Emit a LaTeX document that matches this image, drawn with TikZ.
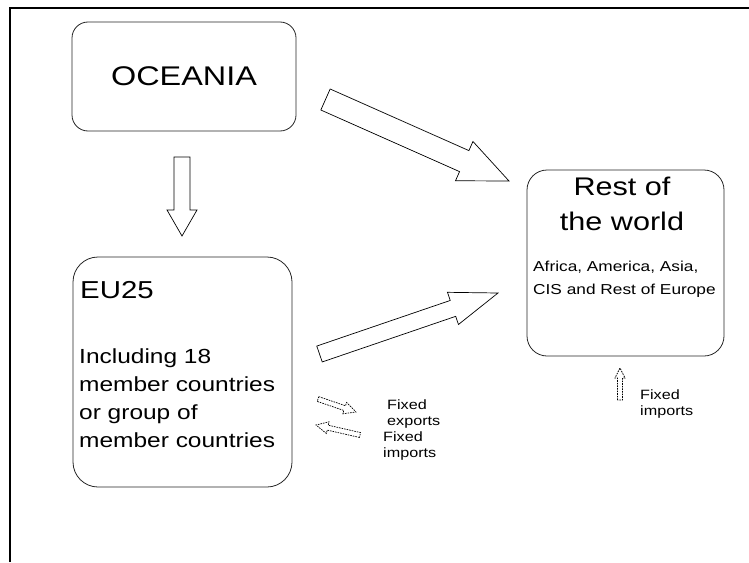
\documentclass[tikz,border=0pt]{standalone}
\usepackage{fontspec}
\setmainfont{Liberation Sans}[FakeStretch=1.2]
\usetikzlibrary{calc}
\tikzstyle{region}=[draw=black!85,line width=0.8pt,rounded corners=16pt,inner sep=0pt]
\tikzstyle{bigarrow}=[draw,line width=0.7pt,line join=miter]
\tikzstyle{fixedarrow}=[draw,line width=0.7pt,densely dashed,dash pattern=on 1.6pt off 1pt]
\tikzstyle{fixedtext}=[inner sep=0pt,anchor=west,align=left,font=\fontsize{13.5}{16}\selectfont]
\newcommand{\blockarrow}[6]{
% #1 style, #2 tail, #3 tip, #4 half shaft, #5 half head, #6 head length
\coordinate (hb) at ($(#3)!#6pt!(#2)$);
\path[#1] ($(#2)!#4pt!90:(#3)$) -- ($(hb)!#4pt!-90:(#2)$) -- ($(hb)!#5pt!-90:(#2)$) -- (#3)
   -- ($(hb)!#5pt!90:(#2)$) -- ($(hb)!#4pt!90:(#2)$) -- ($(#2)!#4pt!-90:(#3)$) -- cycle;
}
\begin{document}
\begin{tikzpicture}[x=1pt,y=-1pt]
\useasboundingbox (0,0) rectangle (749,562);
\draw[line width=2pt] (10,562) -- (10,8) -- (749,8);

\node[region,minimum width=224pt,minimum height=109pt,font=\fontsize{27}{31}\selectfont] (oceania) at (184,76.5) {OCEANIA};
\node[region,rounded corners=25pt,minimum width=219pt,minimum height=230pt] (eu) at (182.5,372) {};
\node[region,rounded corners=20pt,minimum width=197pt,minimum height=186pt] (rest) at (625.5,263) {};

\node[inner sep=0pt,anchor=west,font=\fontsize{24.5}{28}\selectfont] (eutitle) at (80,290) {EU25};
\node[inner sep=0pt,anchor=north west,align=left,font=\fontsize{20.4}{28}\selectfont] (eutext) at (79,349) {Including 18\\member countries\\or group of\\member countries};
\node[inner sep=0pt,align=center,font=\fontsize{25.5}{35}\selectfont] (resttitle) at (622,204) {Rest of\\the world};
\node[inner sep=0pt,anchor=west,align=left,font=\fontsize{14.4}{23}\selectfont] (resttext) at (533,279) {Africa, America, Asia,\\CIS and Rest of Europe};

% trade flows
\coordinate (oc1) at (182,157);
\coordinate (oc2) at (182,236);
\coordinate (oc3) at (325.5,99.5);
\coordinate (rw1) at (509,181);
\coordinate (eu1) at (319.5,354);
\coordinate (rw2) at (498,293);
\blockarrow{bigarrow}{oc1}{oc2}{8}{15}{26}
\blockarrow{bigarrow}{oc3}{rw1}{11.5}{21.5}{49}
\blockarrow{bigarrow}{eu1}{rw2}{8.4}{17}{47.6}

% fixed flows
\coordinate (ex1) at (318,399);
\coordinate (ex2) at (356,412);
\coordinate (im1) at (360,435);
\coordinate (im2) at (316,425);
\coordinate (rm1) at (620,400);
\coordinate (rm2) at (620,368);
\blockarrow{fixedarrow}{ex1}{ex2}{2.5}{6}{12}
\blockarrow{fixedarrow}{im1}{im2}{2.5}{6}{12}
\blockarrow{fixedarrow}{rm1}{rm2}{2.5}{5}{10}
\node[fixedtext] (extext) at (387,414) {Fixed\\exports};
\node[fixedtext] (imtext) at (383,446) {Fixed\\imports};
\node[fixedtext] (rmtext) at (640,404) {Fixed\\imports};
\end{tikzpicture}
\end{document}
